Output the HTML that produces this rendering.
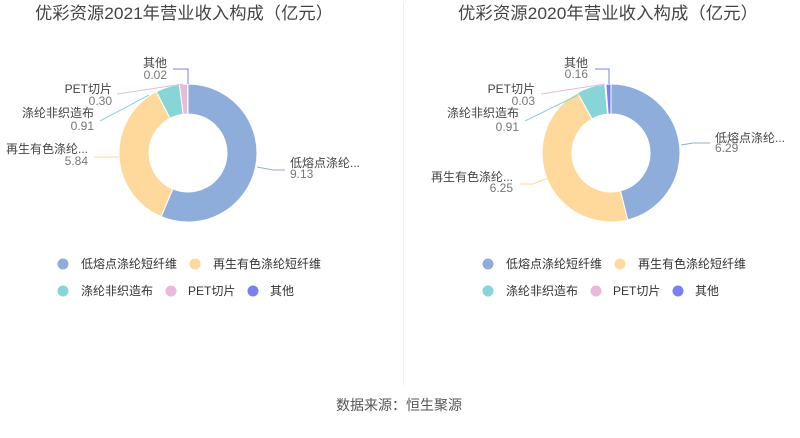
<!DOCTYPE html>
<html>
<head>
<meta charset="utf-8">
<style>
html,body{margin:0;padding:0;background:#fff;}
svg{display:block;}
text{font-family:"Liberation Sans","Noto Sans CJK SC",sans-serif;}
</style>
</head>
<body>
<svg width="800" height="438" viewBox="0 0 800 438" xmlns="http://www.w3.org/2000/svg">
<rect width="800" height="438" fill="#fff"/>
<line x1="403.5" y1="3" x2="403.5" y2="385" stroke="#eeeeee" stroke-width="1"/>

<!-- Titles -->
<text x="35" y="19" font-size="17" fill="#444" textLength="298" lengthAdjust="spacingAndGlyphs">优彩资源2021年营业收入构成（亿元）</text>
<text x="458" y="19" font-size="17" fill="#444" textLength="300" lengthAdjust="spacingAndGlyphs">优彩资源2020年营业收入构成（亿元）</text>

<!-- Left donut -->
<g stroke="#fff" stroke-width="1" stroke-linejoin="round">
<path d="M188,84 A69,69 0 1 1 161.16,216.57 L172.83,188.93 A39,39 0 1 0 188,114 Z" fill="#8faddb"/>
<path d="M161.16,216.57 A69,69 0 0 1 156.32,91.70 L170.09,118.35 A39,39 0 0 0 172.83,188.93 Z" fill="#fed99b"/>
<path d="M156.32,91.70 A69,69 0 0 1 179.46,84.53 L183.17,114.30 A39,39 0 0 0 170.09,118.35 Z" fill="#88d5d8"/>
<path d="M179.46,84.53 A69,69 0 0 1 187.47,84.00 L187.70,114.00 A39,39 0 0 0 183.17,114.30 Z" fill="#e6bbdb"/>
<path d="M187.47,84.00 A69,69 0 0 1 188,84 L188,114 A39,39 0 0 0 187.70,114.00 Z" fill="#7b7ff2"/>
</g>
<g fill="none" stroke-width="1">
<polyline points="188,84 188,69 173,69" stroke="#7b7ff2"/>
<polyline points="183,84 117,94" stroke="#e6bbdb"/>
<polyline points="149,95 100,121" stroke="#88d5d8"/>
<polyline points="119,157 94,157" stroke="#fed99b"/>
<polyline points="257,167 273,170 285,170" stroke="#8faddb"/>
</g>
<g font-size="12">
<text x="167" y="67" text-anchor="end" fill="#444">其他</text>
<text x="167" y="79" text-anchor="end" fill="#777">0.02</text>
<text x="112" y="93" text-anchor="end" fill="#444">PET切片</text>
<text x="112" y="105" text-anchor="end" fill="#777">0.30</text>
<text x="94" y="117" text-anchor="end" fill="#444">涤纶非织造布</text>
<text x="94" y="130" text-anchor="end" fill="#777">0.91</text>
<text x="88" y="153" text-anchor="end" fill="#444">再生有色涤纶...</text>
<text x="88" y="165" text-anchor="end" fill="#777">5.84</text>
<text x="290" y="167" fill="#444">低熔点涤纶...</text>
<text x="290" y="178" fill="#777">9.13</text>
</g>

<!-- Right donut -->
<g stroke="#fff" stroke-width="1" stroke-linejoin="round">
<path d="M611,84 A69,69 0 0 1 627.68,219.95 L620.43,190.84 A39,39 0 0 0 611,114 Z" fill="#8faddb"/>
<path d="M627.68,219.95 A69,69 0 0 1 577.52,92.67 L592.07,118.90 A39,39 0 0 0 620.43,190.84 Z" fill="#fed99b"/>
<path d="M577.52,92.67 A69,69 0 0 1 604.97,84.26 L607.59,114.15 A39,39 0 0 0 592.07,118.90 Z" fill="#88d5d8"/>
<path d="M604.97,84.26 A69,69 0 0 1 605.92,84.19 L608.13,114.11 A39,39 0 0 0 607.59,114.15 Z" fill="#e6bbdb"/>
<path d="M605.92,84.19 A69,69 0 0 1 611,84 L611,114 A39,39 0 0 0 608.13,114.11 Z" fill="#7b7ff2"/>
</g>
<g fill="none" stroke-width="1">
<polyline points="609,84 609,69 595,69" stroke="#7b7ff2"/>
<polyline points="605,84 541,94" stroke="#e6bbdb"/>
<polyline points="580,94 525,121" stroke="#88d5d8"/>
<polyline points="548,178 533,184 520,184" stroke="#fed99b"/>
<polyline points="681,145 693,143 710,143" stroke="#8faddb"/>
</g>
<g font-size="12">
<text x="588" y="67" text-anchor="end" fill="#444">其他</text>
<text x="588" y="78" text-anchor="end" fill="#777">0.16</text>
<text x="535" y="93" text-anchor="end" fill="#444">PET切片</text>
<text x="535" y="105" text-anchor="end" fill="#777">0.03</text>
<text x="519" y="117" text-anchor="end" fill="#444">涤纶非织造布</text>
<text x="519" y="131" text-anchor="end" fill="#777">0.91</text>
<text x="513" y="181" text-anchor="end" fill="#444">再生有色涤纶...</text>
<text x="513" y="192" text-anchor="end" fill="#777">6.25</text>
<text x="715" y="142" fill="#444">低熔点涤纶...</text>
<text x="715" y="152" fill="#777">6.29</text>
</g>

<!-- Legends -->
<g font-size="12" fill="#333">
<circle cx="63" cy="264" r="5.5" fill="#8faddb"/>
<text x="81" y="268">低熔点涤纶短纤维</text>
<circle cx="195" cy="264" r="5.5" fill="#fed99b"/>
<text x="213" y="268">再生有色涤纶短纤维</text>
<circle cx="63" cy="291" r="5.5" fill="#88d5d8"/>
<text x="81" y="295">涤纶非织造布</text>
<circle cx="171" cy="291" r="5.5" fill="#e6bbdb"/>
<text x="188" y="295">PET切片</text>
<circle cx="253" cy="291" r="5.5" fill="#7b7ff2"/>
<text x="270" y="295">其他</text>

<circle cx="488" cy="264" r="5.5" fill="#8faddb"/>
<text x="506" y="268">低熔点涤纶短纤维</text>
<circle cx="620" cy="264" r="5.5" fill="#fed99b"/>
<text x="638" y="268">再生有色涤纶短纤维</text>
<circle cx="488" cy="291" r="5.5" fill="#88d5d8"/>
<text x="506" y="295">涤纶非织造布</text>
<circle cx="596" cy="291" r="5.5" fill="#e6bbdb"/>
<text x="613" y="295">PET切片</text>
<circle cx="678" cy="291" r="5.5" fill="#7b7ff2"/>
<text x="695" y="295">其他</text>
</g>

<text x="399" y="410" font-size="14" fill="#555" text-anchor="middle">数据来源：恒生聚源</text>
</svg>
</body>
</html>
